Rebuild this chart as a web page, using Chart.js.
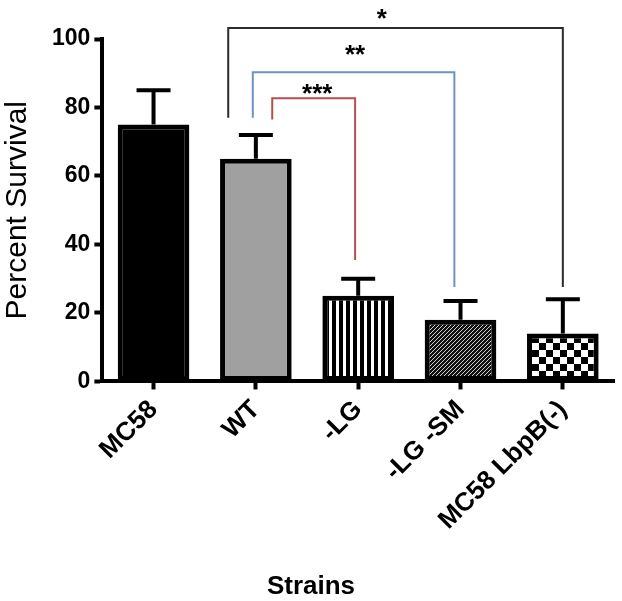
<!DOCTYPE html>
<html>
<head>
<meta charset="utf-8">
<script src="https://cdn.jsdelivr.net/npm/chart.js@4"></script>
<style>
  body { margin: 0; background: #fff; }
  #wrap { width: 622px; height: 601px; }
</style>
</head>
<body>
<div id="wrap"><canvas id="chart" width="622" height="601"></canvas></div>
<script>
// данные
const strains = ['MC58', 'WT', '-LG', '-LG -SM', 'MC58 LbpB(-)'];
const survival = [75, 65, 25, 18, 14];
const errorUpper = [85, 72, 30, 23.5, 24];

// скобки значимости (в единицах осей)
const bracketLabels = ['*', '**', '***'];
const bracketLeft = [0.73, 0.97, 1.16];
const bracketRight = [4, 2.94, 1.97];
const bracketTop = [103.2, 90.3, 82.7];
const bracketLeftEnd = [77, 77, 76.5];
const bracketRightEnd = [27.6, 27.6, 35.5];
const bracketStarX = [2.23, 1.97, 1.6];
const bracketStarY = [108, 97.4, 86];
const bracketColors = ['#2b2b2b', '#7191c4', '#b3504e'];

const FONT = '"Liberation Sans", Arial, Helvetica, sans-serif';

function makePattern(type) {
    const c = document.createElement('canvas');
    const g = c.getContext('2d');
    if (type === 'stripes') {
        c.width = 7; c.height = 7;
        g.fillStyle = '#000'; g.fillRect(0, 0, 7, 7);
        g.fillStyle = '#fff'; g.fillRect(0, 0, 3, 7);
    } else if (type === 'hatch') {
        c.width = 4; c.height = 4;
        g.fillStyle = '#111'; g.fillRect(0, 0, 4, 4);
        g.strokeStyle = '#d4d4d4'; g.lineWidth = 1;
        g.beginPath();
        g.moveTo(0, 4); g.lineTo(4, 0);
        g.moveTo(-1, 1); g.lineTo(1, -1);
        g.moveTo(3, 5); g.lineTo(5, 3);
        g.stroke();
    } else {
        c.width = 14; c.height = 14;
        g.fillStyle = '#fff'; g.fillRect(0, 0, 14, 14);
        g.fillStyle = '#000';
        g.fillRect(0, 0, 7, 7); g.fillRect(7, 7, 7, 7);
    }
    return g.createPattern(c, 'repeat');
}

const ctx = document.getElementById('chart').getContext('2d');
const fills = ['#000000', '#a0a0a0', makePattern('stripes'), makePattern('hatch'), makePattern('checker')];

// усы и скобки рисуем сами
const extrasPlugin = {
    id: 'extras',
    afterDatasetsDraw(chart) {
        const x = chart.scales.x, y = chart.scales.y;
        const c = chart.ctx;
        c.save();
        c.strokeStyle = '#000';
        c.lineWidth = 4;
        survival.forEach((v, i) => {
            const px = x.getPixelForValue(i);
            const y0 = y.getPixelForValue(v);
            const y1 = y.getPixelForValue(errorUpper[i]);
            c.beginPath();
            c.moveTo(px, y0); c.lineTo(px, y1);
            c.moveTo(px - 17, y1); c.lineTo(px + 17, y1);
            c.stroke();
        });
        c.restore();
    },
    afterDraw(chart) {
        const x = chart.scales.x, y = chart.scales.y;
        const c = chart.ctx;
        c.save();
        c.lineWidth = 2;
        bracketLabels.forEach((lab, i) => {
            const xl = x.getPixelForValue(bracketLeft[i]);
            const xr = x.getPixelForValue(bracketRight[i]);
            const yt = y.getPixelForValue(bracketTop[i]);
            c.strokeStyle = bracketColors[i];
            c.beginPath();
            c.moveTo(xl, y.getPixelForValue(bracketLeftEnd[i]));
            c.lineTo(xl, yt);
            c.lineTo(xr, yt);
            c.lineTo(xr, y.getPixelForValue(bracketRightEnd[i]));
            c.stroke();
            c.fillStyle = '#000';
            c.font = 'bold 26px ' + FONT;
            c.textAlign = 'center';
            c.textBaseline = 'alphabetic';
            c.fillText(lab, x.getPixelForValue(bracketStarX[i]), y.getPixelForValue(bracketStarY[i]) + 15);
        });
        // подпись оси X по центру холста
        c.fillStyle = '#000';
        c.font = 'bold 26px ' + FONT;
        c.textAlign = 'center';
        c.fillText('Strains', chart.width / 2, 594);
        c.restore();
    }
};

new Chart(ctx, {
    type: 'bar',
    data: {
        labels: strains,
        datasets: [{
            data: survival,
            backgroundColor: fills,
            borderColor: '#000',
            borderWidth: 5,
            borderSkipped: false,
            barPercentage: 0.7,
            categoryPercentage: 1.0
        }]
    },
    options: {
        responsive: false,
        animation: false,
        layout: {
            padding: { top: 39, right: 8, bottom: 60, left: 0 }
        },
        plugins: {
            legend: { display: false },
            tooltip: { enabled: false }
        },
        scales: {
            x: {
                offset: true,
                grid: {
                    offset: false,
                    drawOnChartArea: false,
                    drawTicks: true,
                    tickLength: 8,
                    tickWidth: 4,
                    tickColor: '#000'
                },
                border: { display: true, color: '#000', width: 4 },
                ticks: {
                    color: '#000',
                    minRotation: 45,
                    maxRotation: 45,
                    padding: 5,
                    font: { family: FONT, size: 26, weight: 'bold' }
                }
            },
            y: {
                min: 0,
                max: 100,
                grid: {
                    drawOnChartArea: false,
                    drawTicks: true,
                    tickLength: 8,
                    tickWidth: 4,
                    tickColor: '#000'
                },
                border: { display: true, color: '#000', width: 4 },
                ticks: {
                    stepSize: 20,
                    color: '#000',
                    padding: 4,
                    font: { family: FONT, size: 23, weight: 'bold' }
                },
                title: {
                    display: true,
                    text: 'Percent Survival',
                    color: '#000',
                    padding: { top: 0, bottom: 12 },
                    font: { family: FONT, size: 30, weight: 'normal' }
                }
            }
        }
    },
    plugins: [extrasPlugin]
});
</script>
</body>
</html>
